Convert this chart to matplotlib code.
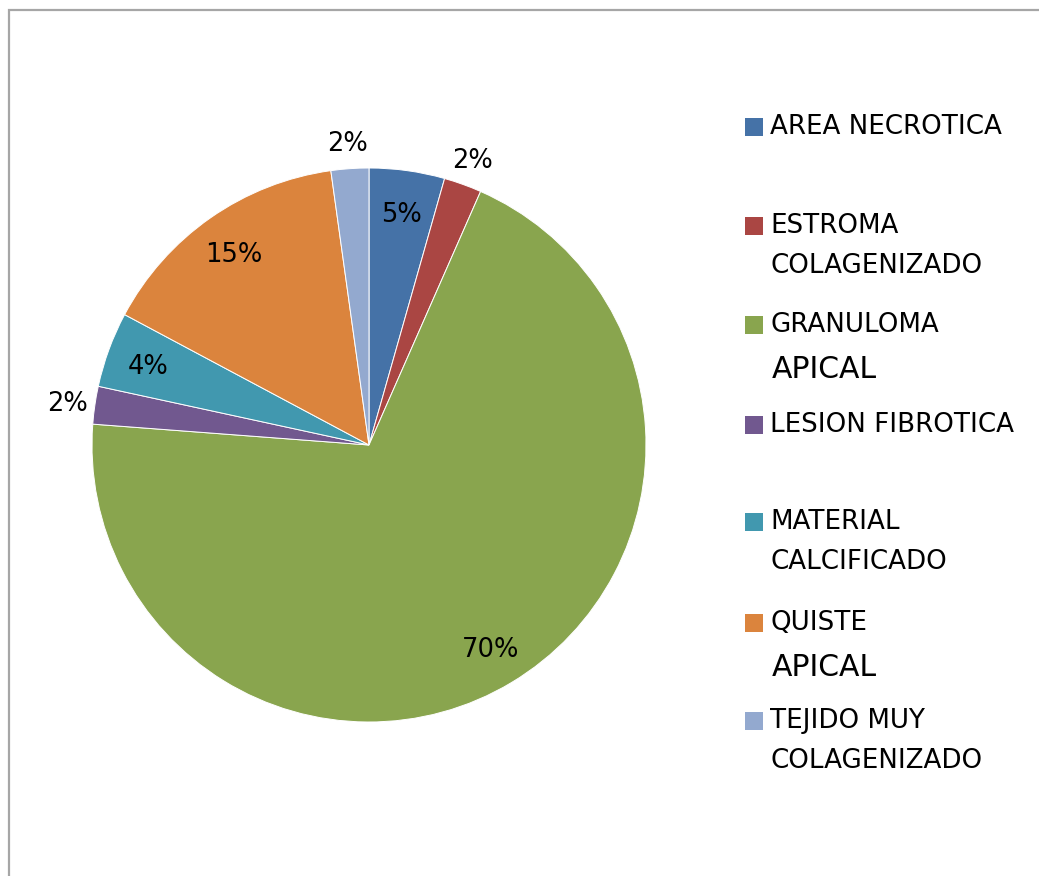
import matplotlib
matplotlib.use('Agg')
import matplotlib.pyplot as plt
from matplotlib.patches import Rectangle
import numpy as np

# datos (porcentajes)
categorias = ['AREA NECROTICA', 'ESTROMA COLAGENIZADO', 'GRANULOMA APICAL',
              'LESION FIBROTICA', 'MATERIAL CALCIFICADO', 'QUISTE APICAL',
              'TEJIDO MUY COLAGENIZADO']
valores = [4.4, 2.2, 69.6, 2.2, 4.4, 15.0, 2.2]
etiquetas = ['5%', '2%', '70%', '2%', '4%', '15%', '2%']
colores = ['#4572A7', '#AA4643', '#89A54E', '#71588F', '#4198AF', '#DB843D', '#93A9CF']

# lineas de la leyenda tal como aparecen
leyenda_lineas = [['AREA NECROTICA'], ['ESTROMA', 'COLAGENIZADO'], ['GRANULOMA', 'APICAL'],
                  ['LESION FIBROTICA'], ['MATERIAL', 'CALCIFICADO'], ['QUISTE', 'APICAL'],
                  ['TEJIDO MUY', 'COLAGENIZADO']]
leyenda_y = [127, 226, 325, 425, 522, 623, 721]

plt.rcParams['font.family'] = ['DejaVu Sans']

W, H = 1039, 876
fig = plt.figure(figsize=(W / 100, H / 100), dpi=100)

# marco gris
fig.patches.append(Rectangle((9 / W, -0.01), 1.02, 1 - 10 / H + 0.01, transform=fig.transFigure,
                             fill=False, edgecolor='#A6A6A6', linewidth=1.6))

cx, cy, r = 369, 445, 277
ax = fig.add_axes([(cx - r) / W, (H - cy - r) / H, 2 * r / W, 2 * r / H])
wedges, _ = ax.pie(valores, colors=colores, startangle=90, counterclock=False, radius=1,
                   wedgeprops=dict(edgecolor='white', linewidth=0.7))
ax.set_xlim(-1, 1)
ax.set_ylim(-1, 1)
ax.set_aspect('equal')
ax.axis('off')

for w, v, t in zip(wedges, valores, etiquetas):
    ang = np.deg2rad((w.theta1 + w.theta2) / 2)
    d = 0.85 if v > 3 else 1.1
    ax.text(d * np.cos(ang), d * np.sin(ang) - 0.01, t, ha='center', va='center',
            fontsize=18.5, color='black', clip_on=False)

# leyenda
for col, lineas, y in zip(colores, leyenda_lineas, leyenda_y):
    fig.patches.append(Rectangle((745 / W, 1 - (y + 9) / H), 18 / W, 18 / H,
                                 transform=fig.transFigure, facecolor=col, edgecolor='none'))
    fig.text(770 / W, 1 - y / H, lineas[0], ha='left', va='center', fontsize=18.8)
    if len(lineas) > 1:
        if lineas[1] == 'APICAL':
            fig.text(772 / W, 1 - (y + 44) / H, lineas[1], ha='left', va='center', fontsize=21.5)
        else:
            fig.text(770 / W, 1 - (y + 40) / H, lineas[1], ha='left', va='center', fontsize=18.8)

fig.savefig('out.png', dpi=100)
